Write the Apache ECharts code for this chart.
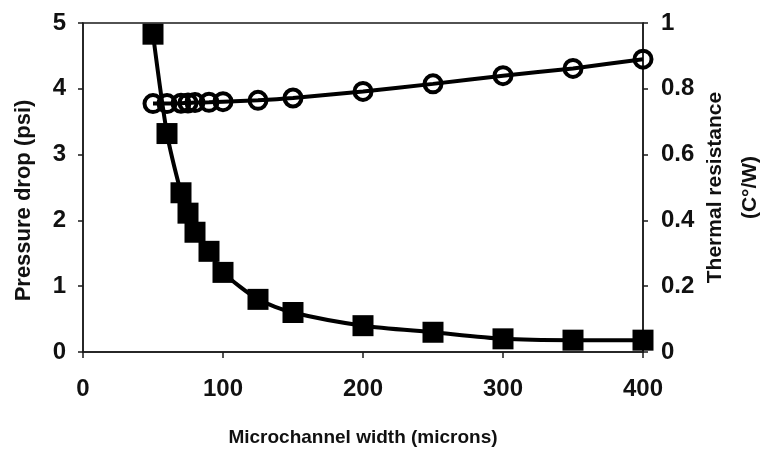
<!DOCTYPE html>
<html>
<head>
<meta charset="utf-8">
<script src="https://cdn.jsdelivr.net/npm/echarts@6/dist/echarts.min.js"></script>
<style>
  html, body { margin: 0; padding: 0; background: #fff; }
  #chart { width: 772px; height: 458px; }
</style>
</head>
<body>
<div id="chart"></div>
<script>
// Microchannel widths (microns)
var widthsPressure = [50, 60, 70, 75, 80, 90, 100, 125, 150, 200, 250, 300, 350, 400];
var pressureDrop   = [4.83, 3.32, 2.42, 2.11, 1.82, 1.53, 1.21, 0.80, 0.60, 0.40, 0.30, 0.20, 0.18, 0.18];

var widthsThermal     = [50, 60, 70, 75, 80, 90, 100, 125, 150, 200, 250, 300, 350, 400];
var thermalResistance = [0.755, 0.755, 0.756, 0.757, 0.758, 0.759, 0.761, 0.765, 0.772, 0.792, 0.815, 0.84, 0.862, 0.89];

var xTitle = 'Microchannel width (microns)';
var yLeftTitle = 'Pressure drop (psi)';
var yRightTitle = 'Thermal resistance\n(C°/W)';

function pairs(xs, ys) { return xs.map(function (x, i) { return [x, ys[i]]; }); }

var FONT = 'Arial, "Liberation Sans", sans-serif';
var axisColor = '#1a1a1a';

var chart = echarts.init(document.getElementById('chart'), null, { renderer: 'canvas' });
chart.setOption({
  animation: false,
  backgroundColor: '#ffffff',
  grid: {
    left: 83, right: 129, top: 23, bottom: 106,
    containLabel: false, outerBoundsMode: 'none',
    show: true, borderColor: axisColor, borderWidth: 1.5, backgroundColor: 'transparent'
  },
  xAxis: {
    type: 'value', min: 0, max: 400, interval: 100,
    name: xTitle, nameLocation: 'middle', nameGap: 76, nameMoveOverlap: false,
    nameTextStyle: { fontFamily: FONT, fontWeight: 'bold', fontSize: 19, color: '#111' },
    axisLine: { show: true, lineStyle: { color: axisColor, width: 1.5 } },
    axisTick: { show: true, length: 6, lineStyle: { color: axisColor, width: 1.5 } },
    axisLabel: { margin: 25, fontFamily: FONT, fontWeight: 'bold', fontSize: 24, color: '#111' },
    splitLine: { show: false }
  },
  yAxis: [
    {
      type: 'value', position: 'left', min: 0, max: 5, interval: 1,
      name: yLeftTitle, nameLocation: 'middle', nameGap: 48, nameRotate: 90, nameMoveOverlap: false,
      nameTextStyle: { fontFamily: FONT, fontWeight: 'bold', fontSize: 22, color: '#111', padding: [0, 26, 0, 0] },
      axisLine: { show: true, lineStyle: { color: axisColor, width: 1.5 } },
      axisTick: { show: true, length: 5, lineStyle: { color: axisColor, width: 1.5 } },
      axisLabel: { margin: 17, fontFamily: FONT, fontWeight: 'bold', fontSize: 24, color: '#111' },
      splitLine: { show: false }
    },
    {
      type: 'value', position: 'right', min: 0, max: 1, interval: 0.2,
      name: yRightTitle, nameLocation: 'middle', nameGap: 55, nameRotate: 90, nameMoveOverlap: false,
      nameTextStyle: { fontFamily: FONT, fontWeight: 'bold', fontSize: 21, color: '#111', lineHeight: 35 },
      axisLine: { show: true, lineStyle: { color: axisColor, width: 1.5 } },
      axisTick: { show: true, length: 5, lineStyle: { color: axisColor, width: 1.5 } },
      axisLabel: {
        margin: 18, fontFamily: FONT, fontWeight: 'bold', fontSize: 24, color: '#111',
        formatter: function (v) { return String(Math.round(v * 10) / 10); }
      },
      splitLine: { show: false }
    }
  ],
  series: [
    {
      name: 'Thermal resistance', type: 'line', yAxisIndex: 1,
      data: pairs(widthsThermal, thermalResistance),
      smooth: 0.2,
      symbol: 'circle', symbolSize: 17,
      lineStyle: { color: '#000', width: 4 },
      itemStyle: { color: 'rgba(255,255,255,0)', borderColor: '#000', borderWidth: 4 },
      z: 3
    },
    {
      name: 'Pressure drop', type: 'line', yAxisIndex: 0,
      data: pairs(widthsPressure, pressureDrop),
      smooth: 0.25,
      symbol: 'rect', symbolSize: 21,
      lineStyle: { color: '#000', width: 4 },
      itemStyle: { color: '#000' },
      z: 4
    }
  ]
});
</script>
</body>
</html>
